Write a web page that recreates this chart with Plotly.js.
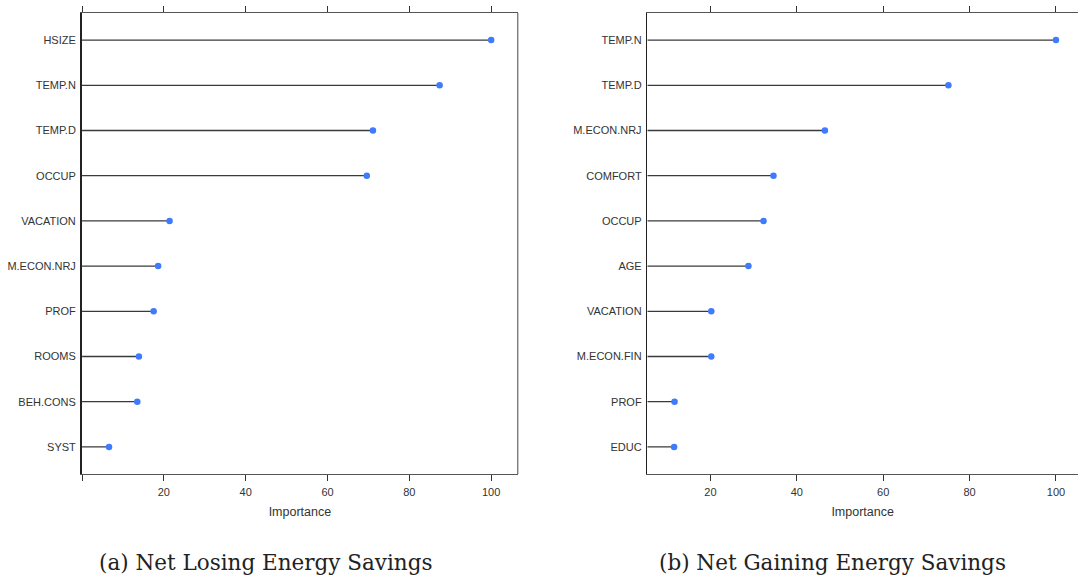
<!DOCTYPE html>
<html><head><meta charset="utf-8">
<script src="https://cdn.plot.ly/plotly-3.0.1.min.js"></script>
<style>html,body{margin:0;padding:0;background:#fff}#chart{width:1078px;height:578px}</style>
</head><body><div id="chart"></div>
<script>
const lossVars = ["HSIZE","TEMP.N","TEMP.D","OCCUP","VACATION","M.ECON.NRJ","PROF","ROOMS","BEH.CONS","SYST"];
const lossImp  = [100, 87.4, 71.1, 69.6, 21.4, 18.6, 17.5, 13.9, 13.5, 6.6];
const gainVars = ["TEMP.N","TEMP.D","M.ECON.NRJ","COMFORT","OCCUP","AGE","VACATION","M.ECON.FIN","PROF","EDUC"];
const gainImp  = [100, 75.1, 46.5, 34.6, 32.3, 28.8, 20.2, 20.2, 11.7, 11.6];
const tickVals = [0, 20, 40, 60, 80, 100];
const tickText = ["", "20", "40", "60", "80", "100"];
const captionA = "(a) Net Losing Energy Savings";
const captionB = "(b) Net Gaining Energy Savings";
const axisTitle = "Importance";

const rangeA = [0, 106.5];
const rangeB = [5.4, 105.1];

function stems(vars, vals, x0, xa, ya){
  const xs=[], ys=[];
  vars.forEach((v,i)=>{ xs.push(x0, vals[i], null); ys.push(v, v, null); });
  return {type:'scatter', mode:'lines', x:xs, y:ys, xaxis:xa, yaxis:ya,
    line:{color:'#3a3a3a', width:1.3}, hoverinfo:'skip', showlegend:false};
}
function dots(vars, vals, xa, ya){
  return {type:'scatter', mode:'markers', x:vals, y:vars, xaxis:xa, yaxis:ya,
    marker:{color:'#3f7bff', size:6.5}, showlegend:false};
}
const data = [
  stems(lossVars, lossImp, rangeA[0], 'x', 'y'), dots(lossVars, lossImp, 'x', 'y'),
  stems(gainVars, gainImp, rangeB[0], 'x2', 'y2'), dots(gainVars, gainImp, 'x2', 'y2')
];
const font = {family:'Liberation Sans, Arial, sans-serif', size:11, color:'#333'};
function xax(domain, range, anchor){
  return {domain, range, anchor, tickvals:tickVals, ticktext:tickText, ticks:'outside', ticklen:6,
    tickcolor:'#333', tickwidth:1, showline:true, linecolor:'#555', linewidth:1.2, mirror:'allticks',
    showgrid:false, zeroline:false, tickfont:font, ticklabelstandoff:2,
    title:{text:axisTitle, font:{family:'Liberation Sans, Arial, sans-serif', size:12.5, color:'#333'}, standoff:9}};
}
function yax(anchor, lw){
  return {anchor, type:'category', range:[9.6,-0.6], showgrid:false, zeroline:false, ticks:'',
    showline:true, linecolor:'#222', linewidth:lw, tickfont:font, ticklabelstandoff:2};
}
const capY = -(562-474)/461;
const layout = {
  width:1078, height:578, margin:{l:0, r:0, t:13, b:104},
  paper_bgcolor:'#fff', plot_bgcolor:'#fff', font:font,
  xaxis: xax([0.0761, 0.4803], rangeA, 'y'),
  yaxis: yax('x', 2),
  xaxis2: xax([0.6005, 1], rangeB, 'y2'),
  yaxis2: yax('x2', 1.5),
  shapes:[{type:'line', xref:'x domain', yref:'y domain', x0:1, x1:1, y0:0, y1:1,
           line:{color:'#666', width:1.2}}],
  annotations:[
    {text:captionA, xref:'paper', yref:'paper', x:266/1078, y:capY, yanchor:'middle', xanchor:'center',
     showarrow:false, font:{family:'DejaVu Serif, serif', size:21.5, color:'#222'}},
    {text:captionB, xref:'paper', yref:'paper', x:832/1078, y:capY, yanchor:'middle', xanchor:'center',
     showarrow:false, font:{family:'DejaVu Serif, serif', size:21.5, color:'#222'}}
  ]
};
Plotly.newPlot('chart', data, layout, {displayModeBar:false, staticPlot:true});
</script></body></html>
